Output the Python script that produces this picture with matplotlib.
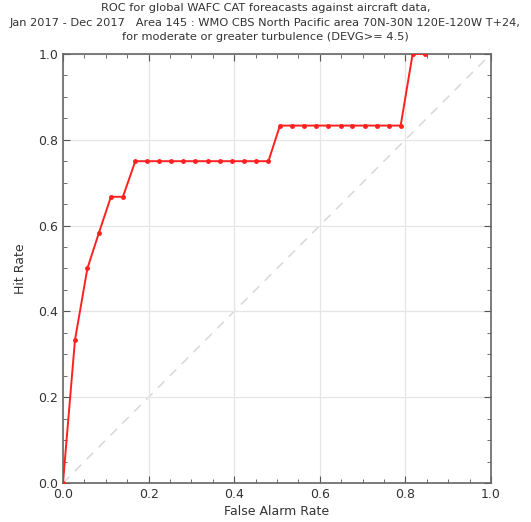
import matplotlib
matplotlib.use("Agg")
import matplotlib.pyplot as plt
from matplotlib.ticker import MultipleLocator

# ROC points
far = [0.0, 0.028, 0.057, 0.084, 0.112, 0.140,
       0.169, 0.197, 0.225, 0.253, 0.281, 0.309, 0.338, 0.367, 0.395, 0.423, 0.451, 0.480,
       0.507, 0.536, 0.563, 0.592, 0.620, 0.649, 0.676, 0.705, 0.733, 0.761, 0.789,
       0.817, 0.846]
hit = [0.0, 0.333, 0.5, 0.583, 0.667, 0.667,
       0.75, 0.75, 0.75, 0.75, 0.75, 0.75, 0.75, 0.75, 0.75, 0.75, 0.75, 0.75,
       0.833, 0.833, 0.833, 0.833, 0.833, 0.833, 0.833, 0.833, 0.833, 0.833, 0.833,
       1.0, 1.0]

title = ("ROC for global WAFC CAT foreacasts against aircraft data,\n"
         "Jan 2017 - Dec 2017   Area 145 : WMO CBS North Pacific area 70N-30N 120E-120W T+24,\n"
         "for moderate or greater turbulence (DEVG>= 4.5)")

txt = "#333333"
fig = plt.figure(figsize=(5.31, 5.22), dpi=100)
ax = fig.add_axes([0.1186, 0.0747, 0.806, 0.822])

ax.plot([0, 1], [0, 1], color="#d8d8d8", ls=(0, (6, 5)), lw=1.1, zorder=1)
ax.plot(far, hit, color="#ff2020", lw=1.4, marker="o", ms=2.5, zorder=3)

ax.set_xlim(0, 1)
ax.set_ylim(0, 1)
ax.xaxis.set_major_locator(MultipleLocator(0.2))
ax.yaxis.set_major_locator(MultipleLocator(0.2))
ax.xaxis.set_minor_locator(MultipleLocator(0.05))
ax.yaxis.set_minor_locator(MultipleLocator(0.05))
ax.grid(True, which="major", color="#e6e6e6", lw=0.9, zorder=0)
ax.tick_params(which="both", direction="in", top=True, right=True, colors="#555555",
               labelcolor=txt, labelsize=9)
ax.tick_params(which="major", length=5)
ax.tick_params(which="minor", length=3)
for s in ax.spines.values():
    s.set_color("#666666")
    s.set_linewidth(1.2)

ax.set_xlabel("False Alarm Rate", fontsize=9, color=txt, labelpad=3)
ax.set_ylabel("Hit Rate", fontsize=9, color=txt, labelpad=8)
fig.suptitle(title, x=0.5, y=0.994, va="top", fontsize=8.2, color=txt, linespacing=1.55)

fig.savefig("out.png", dpi=100)
